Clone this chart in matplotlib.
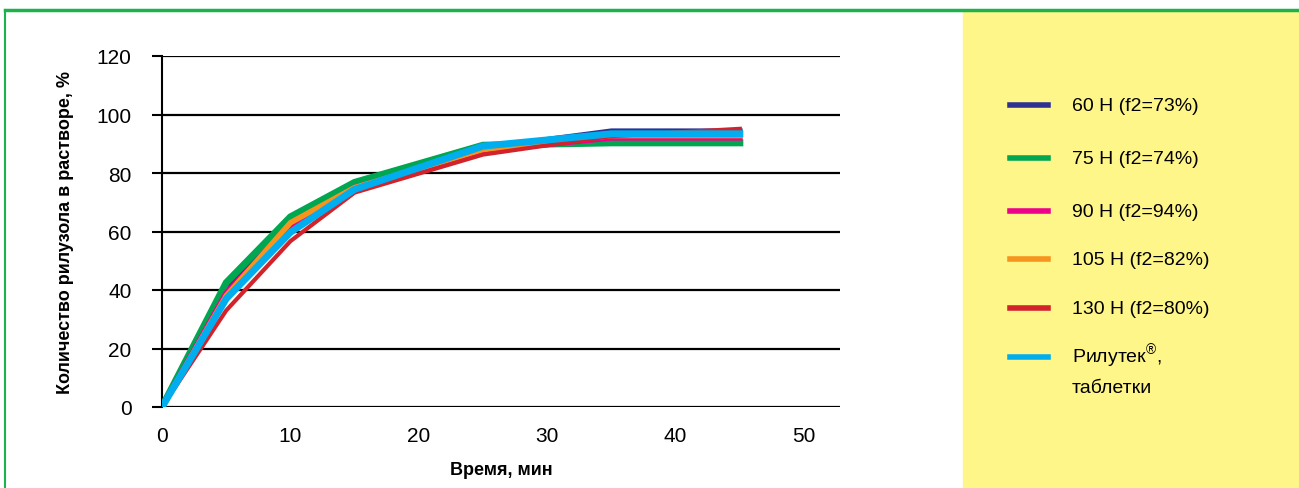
import matplotlib.pyplot as plt
from matplotlib.patches import Rectangle
from matplotlib.lines import Line2D

# time points, min
time_min = [0, 5, 10, 15, 25, 35, 45]

# dissolved riluzole, %
n60 = [0, 40, 63.5, 75.5, 88.5, 94.3, 94.3]
n75 = [0, 42.5, 65, 76.8, 89.5, 90.3, 90.3]
n90 = [0, 39, 62, 75, 87.5, 92, 92]
n105 = [0, 38, 63, 75, 88, 92.8, 92.8]
n130 = [0, 33, 56.7, 73.3, 86.3, 92.6, 95.1]
rilutek = [0, 37, 59.7, 74.4, 89.2, 93.4, 93.4]

labels = ["60 Н (f2=73%)", "75 Н (f2=74%)", "90 Н (f2=94%)",
          "105 Н (f2=82%)", "130 Н (f2=80%)", "Рилутек$^{\\mathregular{®}}$,\nтаблетки"]
colors = ["#2E3192", "#00A650", "#EC008C", "#F7941D", "#D2232A", "#00AEEF"]
widths = [4, 5, 4, 4, 3, 5]

plt.rcParams['font.family'] = ['Liberation Sans', 'DejaVu Sans']

fig = plt.figure(figsize=(12.99, 4.89), dpi=100)
W, H = 1299, 489

# yellow legend panel and green frame
fig.patches.append(Rectangle((963 / W, 0), 1 - 963 / W, 1 - 12 / H,
                             transform=fig.transFigure, color="#FFF68A", zorder=0))
fig.lines.append(Line2D([5 / W, 1], [1 - 11 / H, 1 - 11 / H], transform=fig.transFigure,
                        color="#1DB34A", lw=2.5))
fig.lines.append(Line2D([5 / W, 5 / W], [0, 1 - 11 / H], transform=fig.transFigure,
                        color="#1DB34A", lw=1.5))

ax = fig.add_axes([162 / W, 1 - 408 / H, (840 - 162) / W, (408 - 57) / H])
series = [n60, n75, n90, n105, n130, rilutek]
for ys, c, w in zip(series, colors, widths):
    ax.plot(time_min, ys, color=c, lw=w, solid_joinstyle="miter", zorder=3)

ax.set_xlim(0, 52.8)
ax.set_ylim(0, 120)
ax.set_xticks([0, 10, 20, 30, 40, 50])
ax.set_yticks(range(0, 121, 20))
ax.yaxis.grid(True, color="black", lw=1.6)
ax.set_axisbelow(True)
for s in ["top", "right", "bottom"]:
    ax.spines[s].set_visible(False)
ax.spines["left"].set_linewidth(1.5)
ax.tick_params(axis="y", length=7, width=1.5, labelsize=15, pad=15)
ax.tick_params(axis="x", length=0, labelsize=15, pad=14)
ax.set_xlabel("Время, мин", fontsize=13, fontweight="bold", labelpad=11)
ax.set_ylabel("Количество рилузола в растворе, %", fontsize=13, fontweight="bold", labelpad=16)

# legend drawn by hand in the yellow panel
leg_y = [106, 159, 212, 260, 309, 358]
for yy, c, lab in zip(leg_y, colors, labels):
    fig.lines.append(Line2D([1010 / W, 1048 / W], [1 - yy / H] * 2, transform=fig.transFigure,
                            color=c, lw=4))
    for i, part in enumerate(lab.split("\n")):
        fig.text(1072 / W, 1 - (yy + 5 + 30 * i) / H, part, fontsize=14,
                 va="baseline", ha="left")

fig.savefig("out.png", dpi=100)
